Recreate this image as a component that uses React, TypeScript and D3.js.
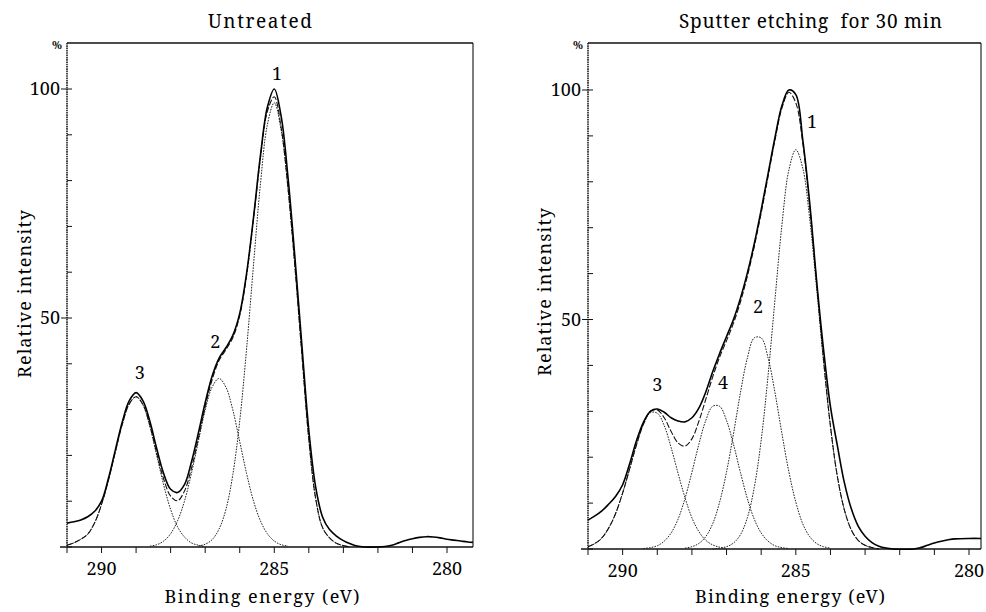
import { useMemo } from "react";
import * as d3 from "d3";

type Pt = [number, number]; // [binding energy eV, relative intensity %]

// ---- Untreated: measured envelope, fitted sum, fitted components ----
const untreatedMeasured: Pt[] = [
  [291.0, 5.2], [290.8, 5.5], [290.6, 5.9], [290.4, 6.6], [290.2, 7.8], [290.0, 10.0],
  [289.8, 15.0], [289.6, 21.2], [289.4, 27.3], [289.2, 31.9], [289.0, 33.7], [288.8, 31.9],
  [288.6, 27.4], [288.4, 21.4], [288.2, 16.0], [288.0, 12.6], [287.8, 11.9], [287.6, 13.6],
  [287.4, 18.5], [287.2, 24.8], [287.0, 31.5], [286.8, 37.3], [286.6, 41.2], [286.4, 43.5],
  [286.2, 46.2], [286.0, 51.0], [285.8, 59.8], [285.6, 72.0], [285.4, 85.5], [285.2, 96.0],
  [285.0, 100], [284.8, 94.0], [284.6, 80.5], [284.4, 63.0], [284.2, 44.0], [284.0, 25.5],
  [283.8, 13.0], [283.6, 6.5], [283.4, 3.8], [283.2, 2.4], [283.0, 1.4], [282.8, 0.7],
  [282.6, 0.2], [282.4, 0], [282.0, 0], [281.8, 0.1], [281.6, 0.4], [281.4, 0.9],
  [281.2, 1.4], [281.0, 1.8], [280.8, 2.1], [280.6, 2.25], [280.4, 2.2], [280.2, 2.0],
  [280.0, 1.7], [279.8, 1.5], [279.6, 1.3], [279.4, 1.1], [279.25, 1.0],
];
const untreatedFit: Pt[] = [
  [291.0, 0.4], [290.8, 0.9], [290.6, 1.7], [290.4, 2.8], [290.2, 5.3], [290.0, 9.3],
  [289.8, 14.6], [289.6, 20.8], [289.4, 26.8], [289.2, 31.2], [289.0, 32.8], [288.8, 31.1],
  [288.6, 26.5], [288.4, 20.4], [288.2, 14.8], [288.0, 11.1], [287.8, 10.1], [287.6, 12.2],
  [287.4, 17.1], [287.2, 23.6], [287.0, 30.6], [286.8, 36.5], [286.6, 40.7], [286.4, 43.1],
  [286.2, 45.7], [286.0, 50.5], [285.8, 59.4], [285.6, 71.7], [285.4, 85.0], [285.2, 95.1],
  [285.0, 98.3], [284.8, 91.5], [284.6, 78.2], [284.4, 61.0], [284.2, 42.0], [284.0, 23.5],
  [283.8, 10.5], [283.6, 4.2], [283.4, 2.0], [283.2, 0.8], [283.0, 0.3], [282.8, 0],
];
const untreatedPeak1: Pt[] = [
  [287.2, 0.2], [287.0, 0.6], [286.8, 1.6], [286.6, 3.9], [286.4, 8.2], [286.2, 15.8],
  [286.0, 27.5], [285.8, 43.4], [285.6, 61.7], [285.4, 79.3], [285.2, 92.2], [285.0, 97.0],
  [284.8, 91.0], [284.6, 78.0], [284.4, 61.0], [284.2, 42.0], [284.0, 23.5], [283.8, 10.5],
  [283.6, 4.2], [283.4, 2.0], [283.2, 0.8], [283.0, 0.3], [282.8, 0],
];
const untreatedPeak2: Pt[] = [
  [288.6, 0.2], [288.4, 0.5], [288.2, 1.3], [288.0, 2.9], [287.8, 5.7], [287.6, 10.0],
  [287.4, 16.0], [287.2, 23.0], [287.0, 29.9], [286.8, 34.9], [286.6, 36.8], [286.4, 34.9],
  [286.2, 29.9], [286.0, 23.0], [285.8, 16.0], [285.6, 10.0], [285.4, 5.7], [285.2, 2.9],
  [285.0, 1.3], [284.8, 0.5], [284.6, 0.2],
];
const untreatedPeak3: Pt[] = [
  [291.0, 0.4], [290.8, 0.9], [290.6, 1.7], [290.4, 2.8], [290.2, 5.3], [290.0, 9.3],
  [289.8, 14.6], [289.6, 20.8], [289.4, 26.8], [289.2, 31.2], [289.0, 32.8], [288.8, 31.0],
  [288.6, 26.3], [288.4, 19.9], [288.2, 13.5], [288.0, 8.2], [287.8, 4.4], [287.6, 2.2],
  [287.4, 0.9], [287.2, 0.4], [287.0, 0.1],
];

// ---- Sputter etching 30 min ----
const sputterMeasured: Pt[] = [
  [291.0, 6.3], [290.8, 7.2], [290.6, 8.3], [290.4, 9.8], [290.2, 11.5], [290.0, 14.0],
  [289.8, 18.5], [289.6, 23.6], [289.4, 27.6], [289.2, 30.0], [289.0, 30.5], [288.8, 29.8],
  [288.6, 28.6], [288.4, 27.9], [288.2, 27.7], [288.0, 28.6], [287.8, 30.7], [287.6, 34.2],
  [287.4, 38.6], [287.2, 42.6], [287.0, 46.3], [286.8, 50.0], [286.6, 54.6], [286.4, 60.1],
  [286.2, 66.5], [286.0, 73.9], [285.8, 81.8], [285.6, 89.7], [285.4, 96.6], [285.2, 100],
  [285.0, 99.0], [284.8, 89.2], [284.6, 75.5], [284.4, 58.5], [284.2, 43.5], [284.0, 31.0],
  [283.8, 22.5], [283.6, 14.5], [283.4, 8.8], [283.2, 5.0], [283.0, 2.8], [282.8, 1.4],
  [282.6, 0.6], [282.4, 0.2], [282.2, 0], [281.6, 0], [281.4, 0.3], [281.2, 0.8],
  [281.0, 1.3], [280.8, 1.7], [280.6, 2.0], [280.4, 2.2], [280.0, 2.3], [279.65, 2.3],
];
const sputterFit: Pt[] = [
  [291.0, 0.5], [290.8, 1.2], [290.6, 2.4], [290.4, 4.6], [290.2, 7.8], [290.0, 12.2],
  [289.8, 17.4], [289.6, 22.7], [289.4, 27.2], [289.2, 30.0], [289.0, 30.3], [288.8, 28.6],
  [288.6, 25.6], [288.4, 23.1], [288.2, 22.4], [288.0, 24.0], [287.8, 27.8], [287.6, 32.6],
  [287.4, 37.5], [287.2, 41.8], [287.0, 45.4], [286.8, 49.2], [286.6, 53.8], [286.4, 59.4],
  [286.2, 65.9], [286.0, 73.2], [285.8, 81.2], [285.6, 89.2], [285.4, 96.1], [285.2, 99.5],
  [285.0, 97.2], [284.8, 88.5], [284.6, 74.7], [284.4, 58.0], [284.2, 41.3], [284.0, 26.8],
  [283.8, 15.8], [283.6, 8.6], [283.4, 4.2], [283.2, 1.9], [283.0, 0.8], [282.8, 0.3], [282.6, 0],
];
const sputterPeak1: Pt[] = [
  [287.4, 0], [287.2, 0.2], [287.0, 0.5], [286.8, 1.3], [286.6, 3.1], [286.4, 6.8],
  [286.2, 13.4], [286.0, 23.7], [285.8, 37.9], [285.6, 54.5], [285.4, 70.7], [285.2, 82.6],
  [285.0, 87.0], [284.8, 83.0], [284.6, 72.0], [284.4, 56.8], [284.2, 40.8], [284.0, 26.6],
  [283.8, 15.8], [283.6, 8.6], [283.4, 4.2], [283.2, 1.9], [283.0, 0.8], [282.8, 0.3], [282.6, 0],
];
const sputterPeak2: Pt[] = [
  [288.2, 0.2], [288.0, 0.5], [287.8, 1.2], [287.6, 2.7], [287.4, 5.5], [287.2, 10.2],
  [287.0, 16.8], [286.8, 25.1], [286.6, 34.0], [286.4, 41.6], [286.2, 46.0], [286.0, 46.0],
  [285.8, 41.6], [285.6, 34.0], [285.4, 25.1], [285.2, 16.8], [285.0, 10.2], [284.8, 5.5],
  [284.6, 2.7], [284.4, 1.2], [284.2, 0.5], [284.0, 0.2],
];
const sputterPeak3: Pt[] = [
  [291.0, 0.5], [290.8, 1.2], [290.6, 2.4], [290.4, 4.6], [290.2, 7.8], [290.0, 12.2],
  [289.8, 17.4], [289.6, 22.7], [289.4, 27.1], [289.2, 29.7], [289.0, 29.6], [288.8, 26.9],
  [288.6, 22.1], [288.4, 16.5], [288.2, 11.2], [288.0, 6.8], [287.8, 3.8], [287.6, 1.9],
  [287.4, 0.9], [287.2, 0.4], [287.0, 0.1],
];
const sputterPeak4: Pt[] = [
  [289.4, 0.1], [289.2, 0.3], [289.0, 0.7], [288.8, 1.7], [288.6, 3.5], [288.4, 6.5],
  [288.2, 11.0], [288.0, 16.7], [287.8, 22.8], [287.6, 28.0], [287.4, 31.1], [287.2, 31.1],
  [287.0, 28.0], [286.8, 22.8], [286.6, 16.7], [286.4, 11.0], [286.2, 6.5], [286.0, 3.5],
  [285.8, 1.7], [285.6, 0.7], [285.4, 0.3], [285.2, 0.1],
];

// peak numbers, placed in data coordinates
const untreatedPeakLabels = [
  { name: "1", energy: 284.92, intensity: 102 },
  { name: "2", energy: 286.71, intensity: 43.4 },
  { name: "3", energy: 288.89, intensity: 36.7 },
];
const sputterPeakLabels = [
  { name: "1", energy: 284.53, intensity: 91.7 },
  { name: "2", energy: 286.09, intensity: 51.4 },
  { name: "4", energy: 287.1, intensity: 34.9 },
  { name: "3", energy: 289.0, intensity: 34.4 },
];

const energyTicks = [291, 290, 289, 288, 287, 286, 285, 284, 283, 282, 281, 280];
const energyTickLabels = [290, 285, 280];
const intensityTicks = [0, 10, 20, 30, 40, 50, 60, 70, 80, 90, 100];
const intensityTickLabels = [50, 100];

// presentation attribute with quoted names fell back to sans, so go through style
const serif = { fontFamily: '"Noto Serif", "Liberation Serif", serif' };

const SpectrumPanel = ({ id, title, titleX, titleWidth, box, xRange, yRange, xLabelX, xLabelWidth, yLabelX, yLabelY, measured, fit, components, peakLabels }) => {
  const xScale = useMemo(() => d3.scaleLinear().domain([291, 280]).range(xRange), [xRange]);
  const yScale = useMemo(() => d3.scaleLinear().domain([0, 100]).range(yRange), [yRange]);

  const line = d3.line<Pt>()
    .x((d) => xScale(d[0]))
    .y((d) => yScale(d[1]))
    .curve(d3.curveCatmullRom.alpha(0.5));

  return (
    <g>
      <defs>
        <clipPath id={id}>
          <rect x={box.left} y={box.top} width={box.right - box.left} height={box.bottom - box.top + 1} />
        </clipPath>
      </defs>

      <text x={titleX} y={28} fontSize={19} textLength={titleWidth} lengthAdjust="spacing" style={{ ...serif, whiteSpace: "pre" }}>
        {title}
      </text>
      <text x={box.left - 15} y={49} fontSize={11} fontWeight="bold" style={serif}>%</text>

      {/* frame */}
      <line x1={box.left} x2={box.right} y1={box.top} y2={box.top} stroke="#111" strokeWidth={1.4} />
      <line x1={box.right} x2={box.right} y1={box.top} y2={box.bottom} stroke="#111" strokeWidth={1.1} />
      <line x1={box.left} x2={box.left} y1={box.top} y2={box.bottom} stroke="#111" strokeWidth={1.5} strokeDasharray="1.6,0.7" />
      <line x1={box.left - 7} x2={box.right} y1={box.bottom} y2={box.bottom} stroke="#111" strokeWidth={1.4} />

      {energyTicks.map((e) => (
        <line key={"xt" + e} x1={xScale(e)} x2={xScale(e)} y1={box.bottom} y2={box.bottom + 6} stroke="#111" strokeWidth={1} />
      ))}
      {energyTickLabels.map((e) => (
        <text key={"xl" + e} x={xScale(e)} y={box.bottom + 28} textAnchor="middle" fontSize={18} style={serif}>{e}</text>
      ))}
      {intensityTicks.map((v) => {
        const labelled = intensityTickLabels.includes(v);
        return (
          <line key={"yt" + v} x1={labelled ? box.left - 6 : box.left} x2={box.left + 5} y1={yScale(v)} y2={yScale(v)} stroke="#111" strokeWidth={1} />
        );
      })}
      {intensityTickLabels.map((v) => (
        <text key={"yl" + v} x={box.left - 7} y={yScale(v) + 6} textAnchor="end" fontSize={18} style={serif}>{v}</text>
      ))}

      <text x={xLabelX} y={603} textAnchor="middle" fontSize={18} textLength={xLabelWidth} lengthAdjust="spacing" style={serif}>
        Binding energy (eV)
      </text>
      <text transform={`translate(${yLabelX},${yLabelY}) rotate(-90)`} textAnchor="middle" fontSize={18} textLength={168} lengthAdjust="spacing" style={serif}>
        Relative intensity
      </text>

      <g clipPath={`url(#${id})`} fill="none">
        {components.map((c, i) => (
          <path key={"c" + i} d={line(c)} stroke="#222" strokeWidth={1} strokeDasharray="1.6,1.2" />
        ))}
        <path d={line(fit)} stroke="#111" strokeWidth={1.1} strokeDasharray="6,2" />
        <path d={line(measured)} stroke="#000" strokeWidth={1.6} />
      </g>

      {peakLabels.map((p) => (
        <text key={"pl" + p.name} x={xScale(p.energy)} y={yScale(p.intensity)} textAnchor="middle" fontSize={18} style={serif}>
          {p.name}
        </text>
      ))}
    </g>
  );
};

export default function App() {
  return (
    <svg width={986} height={612} style={{ position: "absolute", left: 0, top: 0, background: "#fff" }}>
      <SpectrumPanel
        id="clip-untreated"
        title="Untreated"
        titleX={208}
        titleWidth={104}
        box={{ left: 67, right: 473, top: 43, bottom: 547 }}
        xRange={[67, 447]}
        yRange={[547, 89]}
        xLabelX={262}
        xLabelWidth={195}
        yLabelX={31}
        yLabelY={294}
        measured={untreatedMeasured}
        fit={untreatedFit}
        components={[untreatedPeak1, untreatedPeak2, untreatedPeak3]}
        peakLabels={untreatedPeakLabels}
      />
      <SpectrumPanel
        id="clip-sputter"
        title="Sputter etching  for 30 min"
        titleX={679}
        titleWidth={263}
        box={{ left: 588, right: 981, top: 43, bottom: 549 }}
        xRange={[588, 969]}
        yRange={[549, 90]}
        xLabelX={790}
        xLabelWidth={190}
        yLabelX={551}
        yLabelY={292}
        measured={sputterMeasured}
        fit={sputterFit}
        components={[sputterPeak1, sputterPeak2, sputterPeak3, sputterPeak4]}
        peakLabels={sputterPeakLabels}
      />
    </svg>
  );
}
